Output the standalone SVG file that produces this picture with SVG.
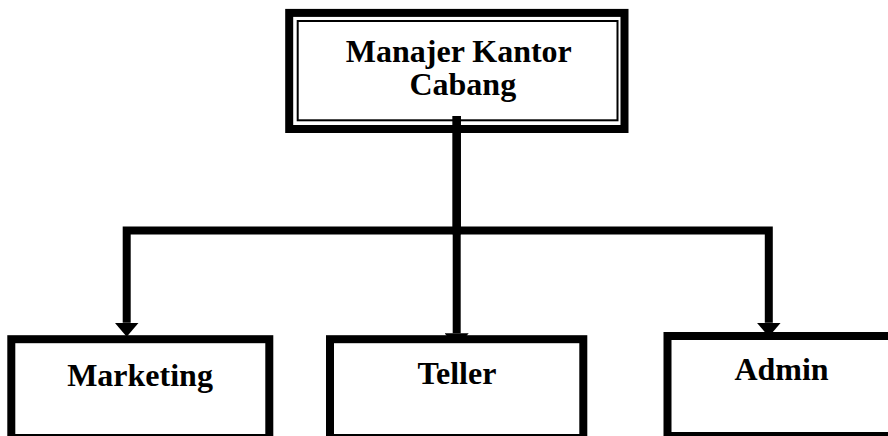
<svg xmlns="http://www.w3.org/2000/svg" width="888" height="436" viewBox="0 0 888 436">
<style>
.thick{fill:#fff;stroke:#000;stroke-width:8}
.thin{fill:none;stroke:#000;stroke-width:2}
.conn{fill:none;stroke:#000;stroke-width:8;stroke-linejoin:miter}
text{font-family:"Liberation Serif","Times New Roman",serif;font-weight:bold;font-size:32px;fill:#000;text-anchor:middle}
</style>
<defs>
<marker id="arr" markerUnits="userSpaceOnUse" markerWidth="14" markerHeight="24" viewBox="0 0 14 24" refX="0" refY="12" orient="auto">
<path d="M0,0 L14,12 L0,24 Z" fill="#000"/>
</marker>
</defs>
<g id="manajer">
<rect class="thick" x="289.2" y="12.9" width="335.3" height="116.1"/>
<rect class="thin" x="297.7" y="21" width="319.8" height="99.3"/>
<text x="458.8" y="62">Manajer Kantor</text>
<text x="462.8" y="95">Cabang</text>
</g>
<g id="connectors">
<path class="conn" d="M456.7,116 V230.4 H126.7 V322.7" marker-end="url(#arr)"/>
<path class="conn" d="M456.7,116 V333.3" marker-end="url(#arr)"/>
<path class="conn" d="M456.7,116 V230.4 H768.8 V322.7" marker-end="url(#arr)"/>
</g>
<g id="marketing">
<rect class="thick" x="11.3" y="339.2" width="258" height="98.8"/>
<text x="140" y="385.5">Marketing</text>
</g>
<g id="teller">
<rect class="thick" x="330" y="339.2" width="253.3" height="98.8"/>
<text x="457" y="384">Teller</text>
</g>
<g id="admin">
<rect class="thick" x="667.5" y="336" width="240" height="100"/>
<text x="781.5" y="380">Admin</text>
</g>
</svg>
